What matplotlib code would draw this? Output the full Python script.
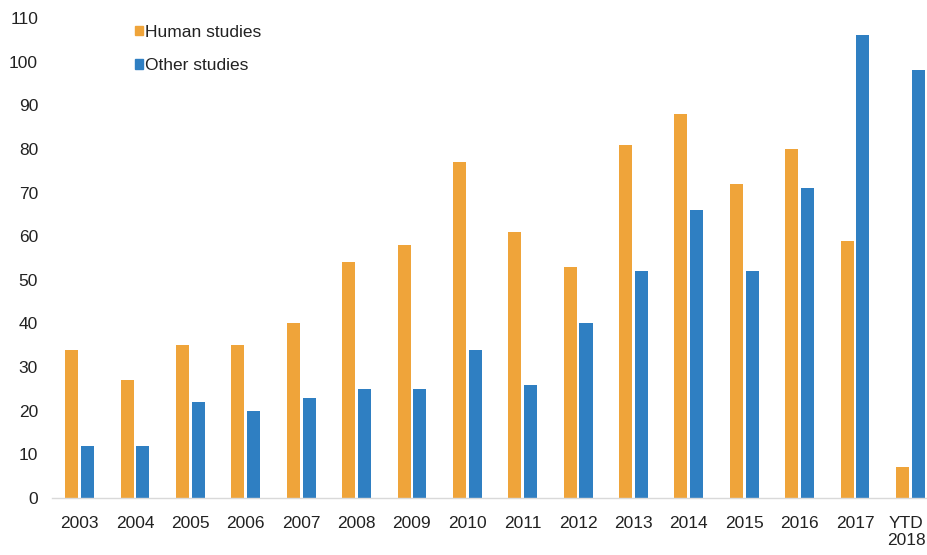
import matplotlib
matplotlib.use('Agg')
import matplotlib.pyplot as plt
import matplotlib.patches as patches
import matplotlib.transforms as mtransforms
import numpy as np

# ── Data ──────────────────────────────────────────────────────────────
CATEGORIES = ['2003', '2004', '2005', '2006', '2007', '2008', '2009', '2010',
              '2011', '2012', '2013', '2014', '2015', '2016', '2017',
              'YTD\n2018']
HUMAN = [34, 27, 35, 35, 40, 54, 58, 77, 61, 53, 81, 88, 72, 80, 59, 7]
OTHER = [12, 12, 22, 20, 23, 25, 25, 34, 26, 40, 52, 66, 52, 71, 106, 98]
Y_TICKS = list(range(0, 111, 10))

# ── Palette ───────────────────────────────────────────────────────────
ORANGE = '#EFA43A'
BLUE = '#2F7FC2'
TEXT = '#222222'

plt.rcParams['font.family'] = ['Liberation Sans', 'DejaVu Sans']

fig = plt.figure(figsize=(9.27, 5.55), dpi=100)
ax = fig.add_axes([0.056, 0.1027, 0.956, 0.8649])

x = np.arange(len(CATEGORIES))
w = 0.235
gap = 0.05
ax.bar(x - (w + gap) / 2, HUMAN, width=w, color=ORANGE, label='Human studies')
ax.bar(x + (w + gap) / 2, OTHER, width=w, color=BLUE, label='Other studies')

ax.set_xlim(-0.5, len(CATEGORIES) - 0.5)
ax.set_ylim(0, 110)
ax.set_yticks(Y_TICKS)
ax.set_xticks(x)
ax.set_xticklabels(CATEGORIES)
ax.tick_params(axis='both', length=0, labelsize=12.5, colors=TEXT)
ax.tick_params(axis='y', pad=10)
ax.tick_params(axis='x', pad=13)

# last label sits right at the edge; nudge it in a little
last = ax.get_xticklabels()[-1]
last.set_transform(last.get_transform() +
                   mtransforms.ScaledTranslation(-4 / 100, 0, fig.dpi_scale_trans))

for s in ['top', 'right', 'left']:
    ax.spines[s].set_visible(False)
ax.spines['bottom'].set_color('#D9D9D9')
ax.spines['bottom'].set_linewidth(1.0)

handles = [patches.Patch(color=ORANGE, label='Human studies'),
           patches.Patch(color=BLUE, label='Other studies')]
ax.legend(handles=handles, loc='upper left', bbox_to_anchor=(0.076, 1.018),
          frameon=False, fontsize=12.5, handlelength=0.45, handleheight=0.45,
          handletextpad=0.15, labelspacing=1.05, labelcolor=TEXT)

fig.savefig('out.png', dpi=100, facecolor='white')
